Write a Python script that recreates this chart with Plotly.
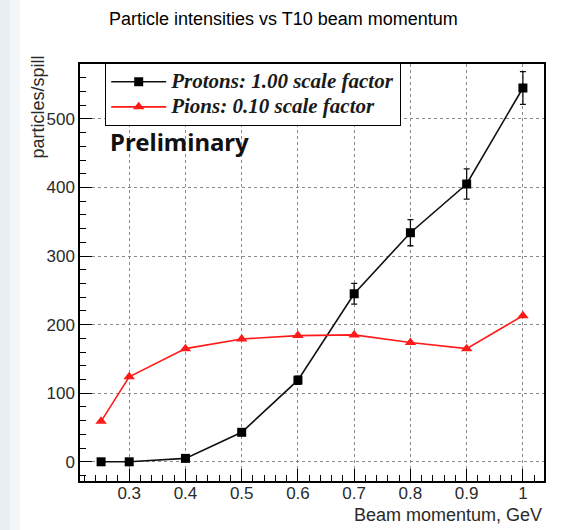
import plotly.graph_objects as go

momentum = [0.25, 0.3, 0.4, 0.5, 0.6, 0.7, 0.8, 0.9, 1.0]
protons = [0, 0, 5, 43, 119, 245, 334, 405, 545]
proton_err = [0.5, 0.5, 1, 3, 6, 15, 19, 22, 24]
pions = [59, 124, 165, 179, 184, 185, 174, 165, 213]
series_names = ["Protons: 1.00 scale factor", "Pions: 0.10 scale factor"]

W, H = 566, 530
ML, MR, MT, MB = 80, 22, 64, 49
PW, PH = W - ML - MR, H - MT - MB

def px(xp):
    return (xp - ML) / PW

def py(yp):
    return (H - MB - yp) / PH

def big(t):
    return '<span style="font-size:21px">' + t + '</span>'

fig = go.Figure()
fig.add_trace(go.Scatter(
    x=momentum, y=protons, mode="lines+markers",
    name=big(series_names[0]),
    line=dict(color="#111111", width=1.6),
    marker=dict(symbol="square", size=9, color="#000000"),
    error_y=dict(type="data", array=proton_err, color="#111111", thickness=1.3, width=3),
))
fig.add_trace(go.Scatter(
    x=momentum, y=pions, mode="lines+markers",
    name=big(series_names[1]),
    line=dict(color="#ff1a1a", width=1.6),
    marker=dict(symbol="triangle-up", size=10, color="#ff1a1a"),
))

axis_common = dict(
    showline=True, linecolor="black", linewidth=1.5, mirror=True,
    ticks="inside", tickcolor="black", ticklen=12, tickwidth=1,
    showgrid=True, gridcolor="#8a8a8a", griddash="dot", gridwidth=1,
    zeroline=False,
    tickfont=dict(family="Liberation Sans", size=17, color="#2a2a2a"),
)

fig.update_xaxes(
    range=[0.2125, 1.0375], tickmode="array",
    tickvals=[0.3, 0.4, 0.5, 0.6, 0.7, 0.8, 0.9, 1.0],
    ticktext=["0.3", "0.4", "0.5", "0.6", "0.7", "0.8", "0.9", "1"],
    minor=dict(dtick=0.02, tick0=0.2, ticks="inside", ticklen=6, tickcolor="black", showgrid=False),
    ticklabelstandoff=-4,
    **axis_common,
)
fig.update_yaxes(
    range=[-28, 580], tickmode="array",
    tickvals=[0, 100, 200, 300, 400, 500],
    minor=dict(dtick=20, tick0=0, ticks="inside", ticklen=6, tickcolor="black", showgrid=False),
    **axis_common,
)

fig.update_layout(
    width=W, height=H,
    margin=dict(l=ML, r=MR, t=MT, b=MB),
    paper_bgcolor="white", plot_bgcolor="white",
    showlegend=True,
    legend=dict(
        x=px(105), y=py(63), xanchor="left", yanchor="top",
        bgcolor="white", bordercolor="black", borderwidth=1.2,
        font=dict(family="Liberation Serif", size=17, color="#1a1a1a", weight="bold", style="italic"),
        itemwidth=55, tracegroupgap=0,
    ),
    shapes=[
        dict(type="rect", xref="paper", yref="paper", x0=px(0), x1=px(10), y0=py(H), y1=py(0),
             fillcolor="#e8eef2", line=dict(width=0), layer="below"),
        dict(type="rect", xref="paper", yref="paper", x0=px(10), x1=px(20), y0=py(H), y1=py(0),
             fillcolor="#f3f6f8", line=dict(width=0), layer="below"),
    ],
    annotations=[
        dict(text="Particle intensities vs T10 beam momentum", xref="paper", yref="paper",
             x=px(283), y=py(19), xanchor="center", yanchor="middle", showarrow=False,
             font=dict(family="Liberation Sans", size=18, color="#000000")),
        dict(text="Beam momentum, GeV", xref="paper", yref="paper",
             x=px(544), y=py(515), xanchor="right", yanchor="middle", showarrow=False,
             font=dict(family="Liberation Sans", size=18, color="#2a2a2a")),
        dict(text="particles/spill", xref="paper", yref="paper", textangle=-90,
             x=px(38), y=py(54), xanchor="center", yanchor="top", showarrow=False,
             font=dict(family="Liberation Sans", size=18, color="#2a2a2a")),
        dict(text="<b>Preliminary</b>", xref="paper", yref="paper",
             x=px(108), y=py(142), xanchor="left", yanchor="middle", showarrow=False,
             font=dict(family="Noto Sans", size=24, color="#111111")),
    ],
)

fig.write_html(
    "out.html",
    config={"displayModeBar": False},
    post_script="document.body.style.margin='0';document.body.style.overflow='hidden';",
)
